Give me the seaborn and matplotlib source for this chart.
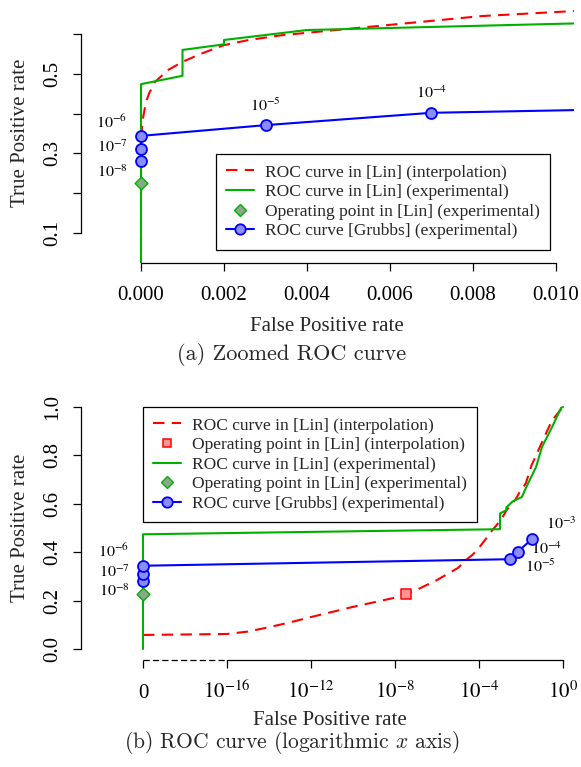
import numpy as np
import matplotlib
matplotlib.use("Agg")
import matplotlib.pyplot as plt
import matplotlib.transforms as mtransforms
from matplotlib.lines import Line2D
import seaborn as sns

# ---------------- data ----------------
# ROC curve in [Lin] (interpolation)
interp_fpr = [0.0, 1e-16, 1e-15, 1e-14, 1e-13, 1e-12, 1e-11, 1e-10, 1e-9, 1e-8,
              3.3e-8, 1e-7, 1e-6, 1e-5, 2e-5, 5e-5, 1e-4,
              1.37e-4, 2e-4, 3.4e-4, 6.6e-4, 1.0e-3, 1.46e-3, 2.0e-3, 2.6e-3,
              3.4e-3, 5.5e-3, 8.2e-3, 1.05e-2, 1.7e-2, 3.2e-2, 0.1, 0.3, 1.0]
interp_tpr = [0.058, 0.062, 0.072, 0.090, 0.110, 0.132, 0.153, 0.174, 0.193, 0.212,
              0.227, 0.243, 0.285, 0.335, 0.362, 0.390, 0.418,
              0.434, 0.452, 0.480, 0.510, 0.530, 0.551, 0.572, 0.585,
              0.597, 0.618, 0.645, 0.658, 0.685, 0.760, 0.855, 0.945, 1.0]
# Operating point in [Lin] (interpolation)
op_interp_fpr = [3.3e-8]
op_interp_tpr = [0.227]
# ROC curve in [Lin] (experimental)
exp_fpr = [0.0, 0.0, 0.001, 0.001, 0.002, 0.002, 0.004, 0.011, 0.017, 0.052, 0.1, 0.3, 0.8, 1.0]
exp_tpr = [0.0, 0.474, 0.495, 0.560, 0.574, 0.585, 0.610, 0.628, 0.665, 0.752, 0.835, 0.917, 0.996, 1.0]
# Operating point in [Lin] (experimental)
op_exp_fpr = [0.0]
op_exp_tpr = [0.226]
# ROC curve [Grubbs] (experimental), with threshold labels
grubbs_thr = ["$10^{-8}$", "$10^{-7}$", "$10^{-6}$", "$10^{-5}$", "$10^{-4}$", "$10^{-3}$"]
grubbs_fpr = [0.0, 0.0, 0.0, 0.003, 0.007, 0.034]
grubbs_tpr = [0.281, 0.310, 0.344, 0.371, 0.402, 0.455]

legend_a = ["ROC curve in [Lin] (interpolation)",
            "ROC curve in [Lin] (experimental)",
            "Operating point in [Lin] (experimental)",
            "ROC curve [Grubbs] (experimental)"]
legend_b = ["ROC curve in [Lin] (interpolation)",
            "Operating point in [Lin] (interpolation)",
            "ROC curve in [Lin] (experimental)",
            "Operating point in [Lin] (experimental)",
            "ROC curve [Grubbs] (experimental)"]

xt_a = [0.000, 0.002, 0.004, 0.006, 0.008, 0.010]
yt_a = [0.1, 0.2, 0.3, 0.4, 0.5, 0.6]
yl_a = ["0.1", "", "0.3", "", "0.5", ""]
xt_b = [-20, -16, -12, -8, -4, 0]           # log10 positions; -20 stands for FPR = 0
xl_b = ["0", "$10^{-16}$", "$10^{-12}$", "$10^{-8}$", "$10^{-4}$", "$10^{0}$"]
yt_b = [0.0, 0.2, 0.4, 0.6, 0.8, 1.0]

# ---------------- style ----------------
sns.set_style("ticks")
plt.rcParams["font.family"] = ["Liberation Serif", "DejaVu Serif"]
plt.rcParams["mathtext.fontset"] = "stix"

RED = "#FF0000"
GREEN = "#00B000"
BLUE = "#0000FF"
BLUE_FILL = "#8C8CFF"
GREEN_FILL = "#8AA88A"
RED_FILL = "#FF9494"
DASH = (0, (5.5, 3.5))
LW = 1.5

W, H = 581, 767
fig = plt.figure(figsize=(W / 100, H / 100), dpi=100)


def px_axes(l, t, r, b):
    return fig.add_axes([l / W, 1 - b / H, (r - l) / W, (b - t) / H])


def to_log(v):
    v = np.asarray(v, dtype=float)
    return np.log10(np.where(v > 0, v, 10.0 ** xt_b[0]))


def style_axes(ax):
    for s in ["top", "right"]:
        ax.spines[s].set_visible(False)
    for s in ["left", "bottom"]:
        ax.spines[s].set_linewidth(0.9)
        ax.spines[s].set_color("black")
    ax.tick_params(direction="out", length=5.5, width=0.9, color="black",
                   labelsize=15, labelcolor="black")
    ax.tick_params(axis="x", pad=21.5)
    ax.tick_params(axis="y", pad=8.0, labelrotation=90)
    for t in ax.get_xticklabels():
        t.set_verticalalignment("baseline")
    for t in ax.get_yticklabels():
        t.set_verticalalignment("center")
        t.set_horizontalalignment("right")


def label_points(ax, xs, ys, labels, offsets):
    for x, y, lab, (dx, dy) in zip(xs, ys, labels, offsets):
        ax.annotate(lab, (x, y), xytext=(dx, dy), textcoords="offset pixels",
                    ha="center", va="center", fontsize=11.5, color="black")


def make_legend(ax, handles, labels, left_px, top_px):
    leg = ax.legend(handles, labels, loc="upper left",
                    bbox_to_anchor=(left_px / W, 1 - top_px / H),
                    bbox_transform=fig.transFigure,
                    fontsize=12.5, frameon=True, fancybox=False, framealpha=1,
                    edgecolor="black", borderpad=0.6, labelspacing=0.2,
                    handlelength=1.6, handletextpad=0.6, borderaxespad=0)
    leg.get_frame().set_linewidth(0.9)
    return leg


# ================= (a) zoomed linear plot =================
ax1 = px_axes(81, 3, 574, 263)
sns.lineplot(x=interp_fpr, y=interp_tpr, sort=False, estimator=None, ax=ax1,
             color=RED, linewidth=LW, linestyle=DASH)
sns.lineplot(x=exp_fpr, y=exp_tpr, sort=False, estimator=None, ax=ax1,
             color=GREEN, linewidth=LW)
sns.lineplot(x=grubbs_fpr, y=grubbs_tpr, sort=False, estimator=None, ax=ax1,
             color=BLUE, linewidth=LW)
sns.scatterplot(x=op_exp_fpr, y=op_exp_tpr, ax=ax1, marker="D", s=42,
                color=GREEN_FILL, edgecolor=GREEN, linewidth=1.0, zorder=5)
sns.scatterplot(x=grubbs_fpr, y=grubbs_tpr, ax=ax1, marker="o", s=62,
                color=BLUE_FILL, edgecolor=BLUE, linewidth=1.3, zorder=6)
ax1.set_xlim(-0.001446, 0.010434)
ax1.set_ylim(0.0246, 0.6779)
ax1.set_xticks(xt_a)
ax1.set_xticklabels([f"{v:.3f}" for v in xt_a])
ax1.set_yticks(yt_a)
ax1.set_yticklabels(yl_a)
ax1.spines["left"].set_bounds(yt_a[0], yt_a[-1])
ax1.spines["bottom"].set_bounds(xt_a[0], xt_a[-1])
style_axes(ax1)
ax1.set_xlabel("")
ax1.set_ylabel("")
label_points(ax1, grubbs_fpr[:5], grubbs_tpr[:5], grubbs_thr[:5],
             [(-29, -12), (-29, 2), (-29, 13), (0, 19), (0, 19)])

handles_a = [
    Line2D([], [], color=RED, lw=LW, linestyle=DASH),
    Line2D([], [], color=GREEN, lw=LW),
    Line2D([], [], color=GREEN, marker="D", ms=6, mfc=GREEN_FILL, mec=GREEN, mew=1.0, ls="none"),
    Line2D([], [], color=BLUE, lw=LW, marker="o", ms=7.5, mfc=BLUE_FILL, mec=BLUE, mew=1.3),
]
make_legend(ax1, handles_a, legend_a, 216, 154)

fig.text(21 / W, 1 - 133 / H, "True Positive rate", rotation=90, ha="center",
         va="center", fontsize=15)
fig.text(327 / W, 1 - 331 / H, "False Positive rate", ha="center", va="baseline",
         fontsize=15)
fig.text(292 / W, 1 - 360 / H, "(a) Zoomed ROC curve", ha="center", va="baseline",
         fontsize=16, family="cmr10")

# ================= (b) logarithmic plot =================
ax2 = px_axes(81, 397, 575, 660)
sns.lineplot(x=to_log(interp_fpr), y=interp_tpr, sort=False, estimator=None, ax=ax2,
             color=RED, linewidth=LW, linestyle=DASH)
sns.lineplot(x=to_log(exp_fpr), y=exp_tpr, sort=False, estimator=None, ax=ax2,
             color=GREEN, linewidth=LW)
sns.lineplot(x=to_log(grubbs_fpr), y=grubbs_tpr, sort=False, estimator=None, ax=ax2,
             color=BLUE, linewidth=LW)
sns.scatterplot(x=to_log(op_interp_fpr), y=op_interp_tpr, ax=ax2, marker="s", s=45,
                color=RED_FILL, edgecolor=RED, linewidth=1.1, zorder=5)
sns.scatterplot(x=to_log(op_exp_fpr), y=op_exp_tpr, ax=ax2, marker="D", s=42,
                color=GREEN_FILL, edgecolor=GREEN, linewidth=1.0, zorder=5)
sns.scatterplot(x=to_log(grubbs_fpr), y=grubbs_tpr, ax=ax2, marker="o", s=62,
                color=BLUE_FILL, edgecolor=BLUE, linewidth=1.3, zorder=6)
ax2.set_xlim(-22.95, 0.57)
ax2.set_ylim(-0.0455, 1.0413)
ax2.set_xticks(xt_b)
ax2.set_xticklabels(xl_b)
ax2.set_yticks(yt_b)
ax2.set_yticklabels([f"{v:.1f}" for v in yt_b])
ax2.spines["left"].set_bounds(yt_b[0], yt_b[-1])
ax2.spines["bottom"].set_bounds(xt_b[1], xt_b[-1])
style_axes(ax2)
ax2.set_xlabel("")
ax2.set_ylabel("")
# broken-axis dashed segment between "0" and 10^-16
ax2.plot([xt_b[0], xt_b[1]], [0, 0],
         transform=mtransforms.blended_transform_factory(ax2.transData, ax2.transAxes),
         color="black", lw=0.9, linestyle=(0, (5, 2.5)), clip_on=False)
label_points(ax2, to_log(grubbs_fpr), grubbs_tpr, grubbs_thr,
             [(-29, -11), (-29, 1), (-29, 14), (30, -8), (29, 2), (29, 14)])

handles_b = [
    Line2D([], [], color=RED, lw=LW, linestyle=DASH),
    Line2D([], [], color=RED, marker="s", ms=6, mfc=RED_FILL, mec=RED, mew=1.1, ls="none"),
    Line2D([], [], color=GREEN, lw=LW),
    Line2D([], [], color=GREEN, marker="D", ms=6, mfc=GREEN_FILL, mec=GREEN, mew=1.0, ls="none"),
    Line2D([], [], color=BLUE, lw=LW, marker="o", ms=7.5, mfc=BLUE_FILL, mec=BLUE, mew=1.3),
]
make_legend(ax2, handles_b, legend_b, 143, 407)

fig.text(21 / W, 1 - 528 / H, "True Positive rate", rotation=90, ha="center",
         va="center", fontsize=15)
fig.text(330 / W, 1 - 725 / H, "False Positive rate", ha="center", va="baseline",
         fontsize=15)
fig.text(292 / W, 1 - 748 / H, "(b) ROC curve (logarithmic $x$ axis)", ha="center",
         va="baseline", fontsize=15.5, family="cmr10", math_fontfamily="cm")

fig.savefig("out.png", dpi=100)
